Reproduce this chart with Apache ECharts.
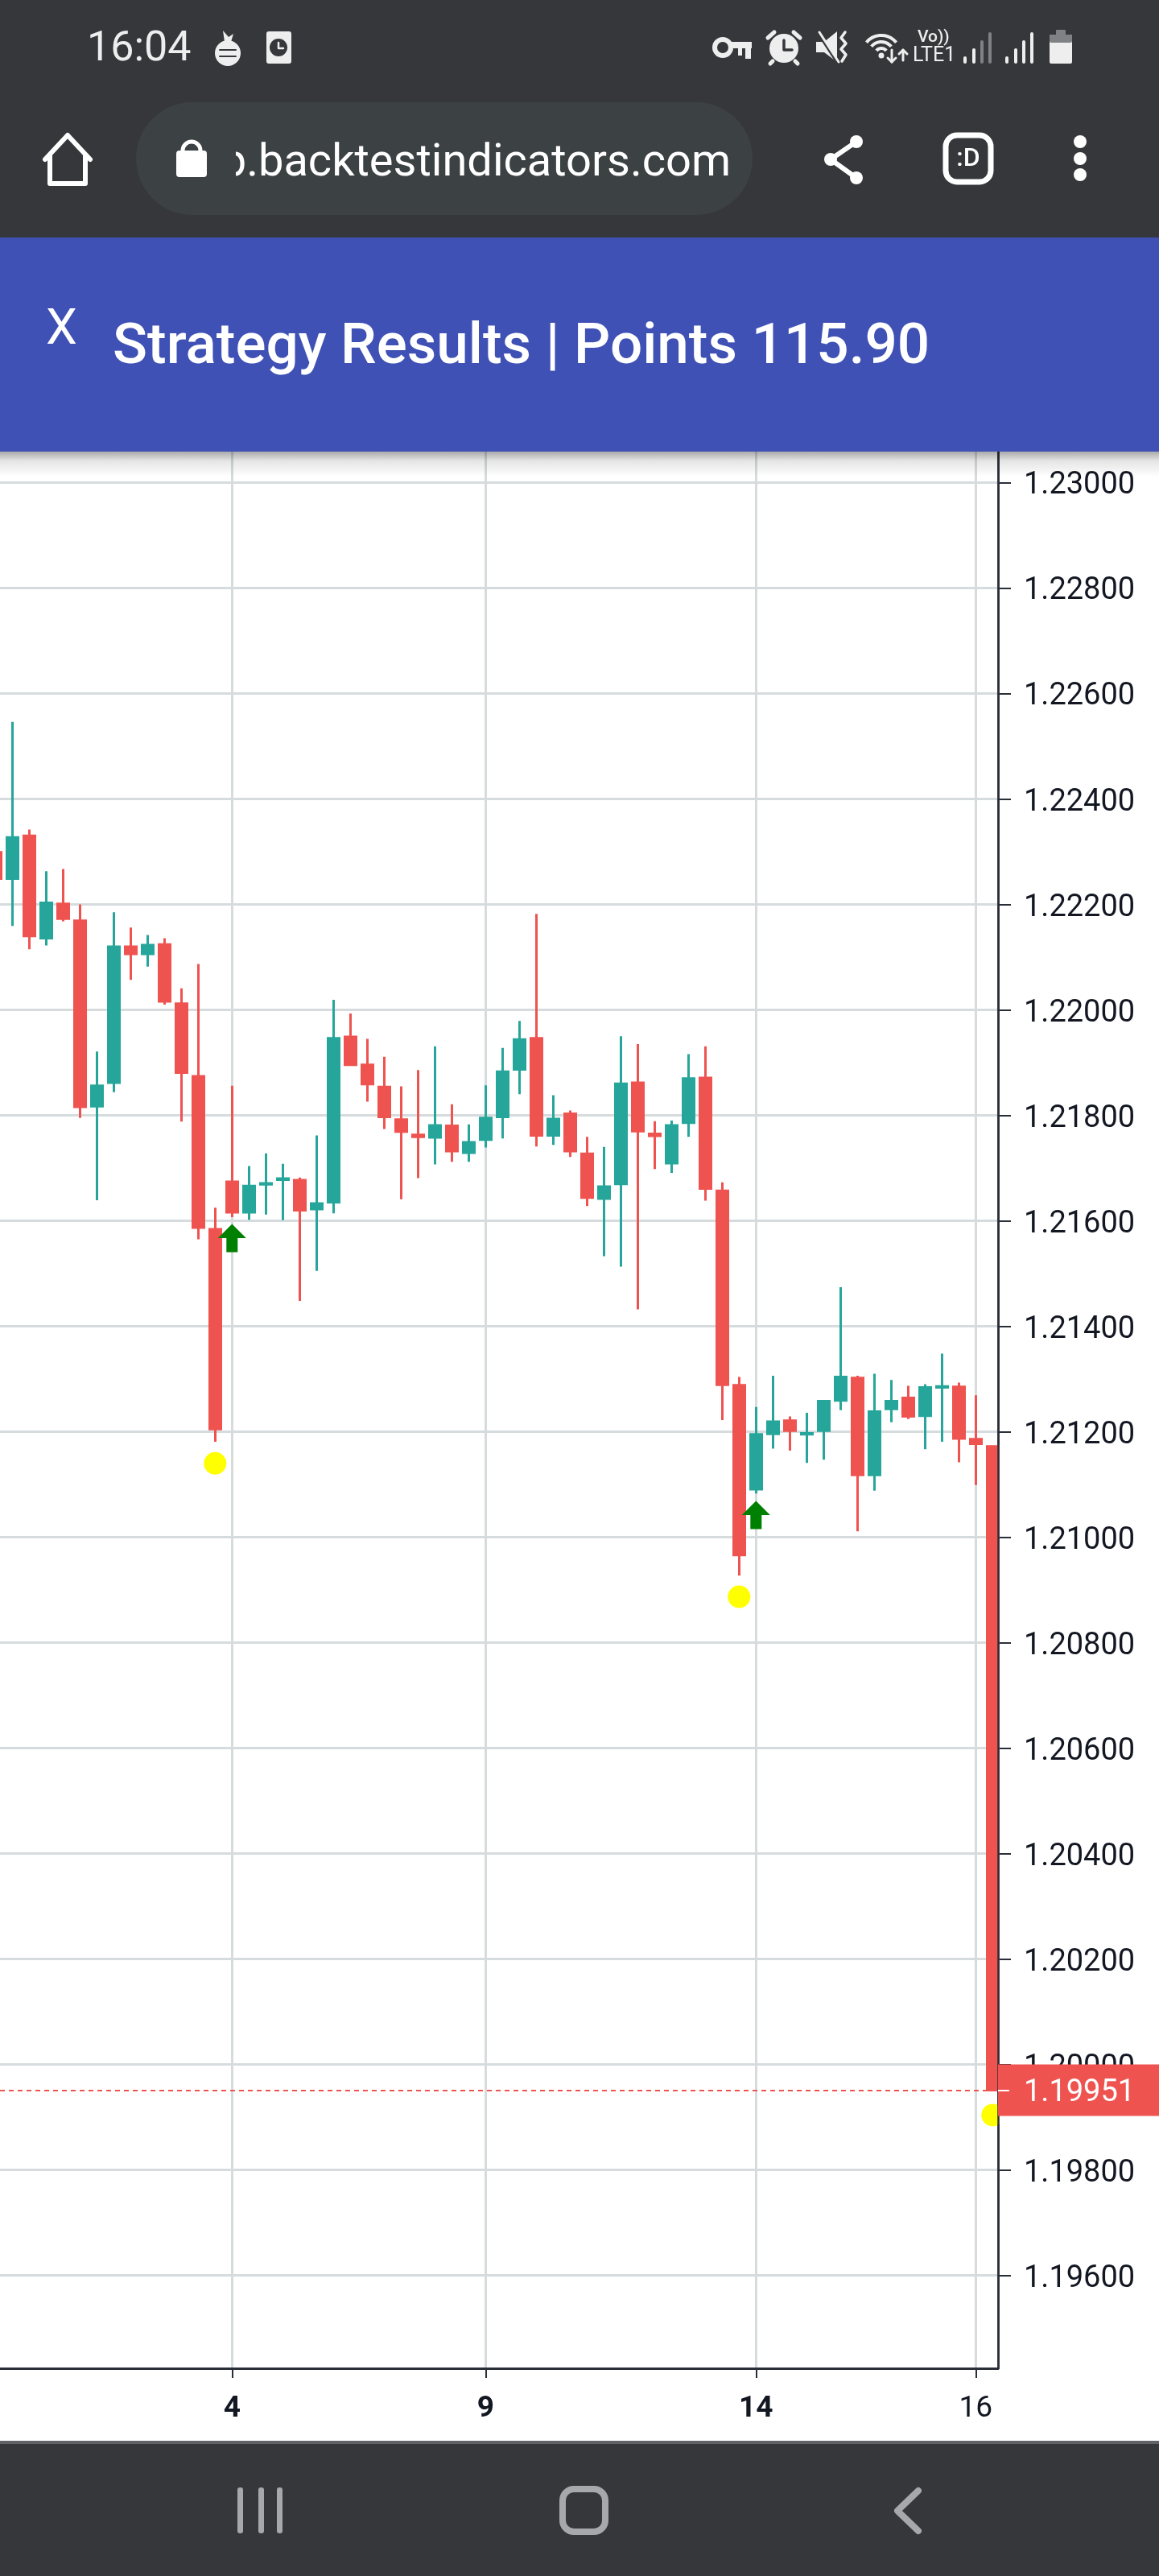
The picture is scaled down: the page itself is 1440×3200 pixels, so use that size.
<!DOCTYPE html>
<html><head><meta charset="utf-8"><title>Strategy Results</title>
<style>html,body{margin:0;padding:0;background:#fff}#c{width:1440px;height:3200px}</style>
<script src="https://cdn.jsdelivr.net/npm/echarts@6/dist/echarts.min.js"></script>
</head><body><div id="c"></div>
<script>
const opens  = [1.22299,1.22249,1.22330,1.22136,1.22201,1.22169,1.21817,1.21862,1.22120,1.22106,1.22124,1.22012,1.21874,1.21584,1.21674,1.21616,1.21669,1.21678,1.21677,1.21622,1.21635,1.21949,1.21896,1.21854,1.21792,1.21763,1.21758,1.21780,1.21729,1.21754,1.21797,1.21887,1.21946,1.21762,1.21803,1.21727,1.21642,1.21670,1.21862,1.21765,1.21709,1.21786,1.21871,1.21657,1.21288,1.21091,1.21196,1.21221,1.21195,1.21202,1.21259,1.21302,1.21118,1.21243,1.21264,1.21230,1.21284,1.21285,1.21186,1.21172];
const closes = [1.22249,1.22327,1.22140,1.22203,1.22173,1.21816,1.21856,1.22120,1.22106,1.22123,1.22016,1.21881,1.21587,1.21205,1.21616,1.21666,1.21671,1.21680,1.21620,1.21633,1.21946,1.21896,1.21859,1.21797,1.21769,1.21759,1.21781,1.21732,1.21749,1.21795,1.21883,1.21944,1.21762,1.21793,1.21732,1.21644,1.21665,1.21860,1.21770,1.21761,1.21781,1.21870,1.21661,1.21289,1.20966,1.21195,1.21219,1.21202,1.21197,1.21258,1.21304,1.21118,1.21238,1.21258,1.21229,1.21284,1.21286,1.21187,1.21177,1.19951];
const lows   = [1.22240,1.22159,1.22115,1.22122,1.22168,1.21795,1.21639,1.21844,1.22057,1.22082,1.22010,1.21788,1.21565,1.21181,1.21607,1.21602,1.21612,1.21601,1.21448,1.21505,1.21614,1.21894,1.21826,1.21774,1.21641,1.21681,1.21707,1.21712,1.21712,1.21739,1.21756,1.21840,1.21741,1.21744,1.21721,1.21628,1.21533,1.21513,1.21432,1.21698,1.21691,1.21759,1.21638,1.21222,1.20927,1.21083,1.21168,1.21164,1.21141,1.21147,1.21241,1.21011,1.21088,1.21218,1.21224,1.21167,1.21181,1.21142,1.21099,1.19951];
const highs  = [1.22305,1.22546,1.22342,1.22263,1.22267,1.22200,1.21921,1.22185,1.22156,1.22142,1.22136,1.22041,1.22087,1.21625,1.21856,1.21704,1.21728,1.21708,1.21682,1.21762,1.22019,1.21993,1.21945,1.21911,1.21855,1.21886,1.21931,1.21821,1.21783,1.21857,1.21928,1.21979,1.22182,1.21838,1.21809,1.21759,1.21740,1.21950,1.21935,1.21789,1.21790,1.21916,1.21931,1.21673,1.21304,1.21247,1.21306,1.21229,1.21236,1.21258,1.21474,1.21306,1.21310,1.21298,1.21287,1.21290,1.21348,1.21293,1.21269,1.21172];
const xTickIndex = [14,29,45,58];
const xTickLabels = ['4','9','14','16'];
const yTicks = [1.196,1.198,1.200,1.202,1.204,1.206,1.208,1.210,1.212,1.214,1.216,1.218,1.220,1.222,1.224,1.226,1.228,1.230];
const lastPrice = 1.19951;
const dotIndex = [13,44,59];
const dotValues = [1.21140,1.20887,1.19904];
const arrowIndex = [14,45];
const arrowValues = [1.21567,1.21042];

const UP='#26a69a', DOWN='#ef5350', INK='#131722', LINE='#2a2e39', GRID='#d6dcde';
const DARK='#36373b', BLUE='#3f51b5', ICON='#eeeeef', NAV='#a7a8ab';
const Z=100;
const rect=(x,y,w,h,fill,r)=>({type:'rect',z:Z,silent:true,shape:{x,y,width:w,height:h,r:r||0},style:{fill}});
const txt=(x,y,text,size,fill,weight,align)=>({type:'text',z:Z,silent:true,style:{x,y,text,fill,font:(weight||400)+' '+size+'px Roboto',textAlign:align||'left',textVerticalAlign:'middle'}});
const line=(pts,stroke,w)=>({type:'polyline',z:Z,silent:true,shape:{points:pts},style:{stroke,lineWidth:w,fill:null,lineCap:'round',lineJoin:'round'}});
const poly=(pts,fill)=>({type:'polygon',z:Z,silent:true,shape:{points:pts},style:{fill}});
const circ=(cx,cy,r,fill,stroke,w)=>({type:'circle',z:Z,silent:true,shape:{cx,cy,r},style:{fill:fill||'transparent',stroke:stroke||null,lineWidth:w||0}});
const arc=(cx,cy,r,a0,a1,stroke,w)=>({type:'arc',z:Z,silent:true,shape:{cx,cy,r,startAngle:a0,endAngle:a1,clockwise:true},style:{stroke,lineWidth:w,fill:null}});

const chrome=[
 // keeps the last signal dot from showing past the price axis
 {type:'rect',z:4,silent:true,shape:{x:1242,y:2627,width:8,height:20},style:{fill:'#ffffff'}},
 {type:'rect',z:Z,silent:true,shape:{x:0,y:560,width:1440,height:32},style:{fill:{type:'linear',x:0,y:0,x2:0,y2:1,colorStops:[{offset:0,color:'rgba(0,0,0,0.35)'},{offset:0.4,color:'rgba(0,0,0,0.1)'},{offset:1,color:'rgba(0,0,0,0)'}]}}},
 rect(0,0,1440,295,DARK),
 rect(0,295,1440,266,BLUE),
 // status bar, left
 txt(108,62,'16:04',52,ICON),
 circ(283,66,16,ICON), poly([[279,52],[277,38],[284,46],[290,42],[287,52]],ICON),
 line([[273,62],[293,62]],DARK,2), line([[273,70],[293,70]],DARK,2),
 rect(331,39,31,40,ICON,3), circ(346,59,11,DARK), line([[346,53],[346,60],[352,60]],ICON,2.5),
 // status bar, right
 circ(898,59,10,null,ICON,6), rect(908,52,26,8,ICON), rect(917,60,5,9,ICON), rect(926,60,7,13,ICON),
 circ(974,60,18,ICON), line([[974,50],[974,62],[984,62]],DARK,3.5),
 line([[954,47],[962,40]],ICON,5), line([[994,47],[986,40]],ICON,5), line([[960,76],[957,79]],ICON,5), line([[988,76],[991,79]],ICON,5),
 poly([[1014,52],[1024,52],[1040,39],[1040,77],[1024,65],[1014,65]],ICON), line([[1016,40],[1040,77]],DARK,4), line([[1018,40],[1042,77]],ICON,3),
 line([[1050,40],[1045,47],[1051,54],[1045,61],[1051,68],[1046,76]],ICON,3.5),
 arc(1095,68,24,-2.45,-0.69,ICON,4), arc(1095,68,16,-2.45,-0.69,ICON,4), arc(1095,68,8,-2.45,-0.69,ICON,4), circ(1095,69,3.5,ICON),
 line([[1108,62],[1108,77]],ICON,3), line([[1103,72],[1108,77],[1113,72]],ICON,3),
 line([[1122,62],[1122,75]],ICON,3), line([[1117,67],[1122,62],[1127,67]],ICON,3),
 txt(1140,47,'Vo))',21,ICON,500), txt(1134,70,'LTE1',25,ICON,400),
 rect(1197,70,4,9,ICON,2), rect(1208,60,4,19,ICON,2), rect(1218,50,4,29,'#808184',2), rect(1228,40,4,39,'#808184',2),
 rect(1249,70,4,9,ICON,2), rect(1260,60,4,19,ICON,2), rect(1270,50,4,29,ICON,2), rect(1280,40,4,39,ICON,2),
 rect(1304,43,28,36,ICON,2), rect(1304,43,28,10,'#808184',2), rect(1312,37,12,7,'#808184',1),
 // address bar
 line([[56,198],[84,168],[112,198]],'#ffffff',6), line([[62,194],[62,228],[106,228],[106,194]],'#ffffff',6),
 rect(169,127,766,140,'#3c4144',70),
 txt(908,204,'p.backtestindicators.com',56,'#ffffff',400,'right'),
 rect(255,140,38,115,'#3c4144'),
 rect(219,187,38,33,'#ffffff',4), arc(238,187,11,Math.PI,2*Math.PI,'#ffffff',5),
 circ(1064,176,8,'#fff'), circ(1032,198,8,'#fff'), circ(1064,221,8,'#fff'), line([[1064,176],[1032,198],[1064,221]],'#fff',6),
 {type:'rect',z:Z,silent:true,shape:{x:1175,y:168,width:56,height:58,r:14},style:{fill:'transparent',stroke:'#fff',lineWidth:7}},
 txt(1203,198,':D',32,'#fff',500,'center'),
 circ(1342,176,8,'#fff'), circ(1342,197,8,'#fff'), circ(1342,217,8,'#fff'),
 // app bar
 txt(57,411,'X',62,'#ffffff',400),
 txt(140,433,'Strategy Results | Points 115.90',71,'#ffffff',500),
 // navigation bar
 rect(0,3032,1440,4,'#5f6368'),
 rect(0,3036,1440,164,DARK),
 rect(295,3090,7,57,NAV,3), rect(321,3090,7,57,NAV,3), rect(344,3090,7,57,NAV,3),
 {type:'rect',z:Z,silent:true,shape:{x:699,y:3092,width:53,height:53,r:14},style:{fill:'transparent',stroke:NAV,lineWidth:8}},
 line([[1141,3094],[1115,3119],[1141,3144]],NAV,8)
];

const candleData=opens.map((o,i)=>[i,o,closes[i],lows[i],highs[i]]);
const fmtY=v=>Number(v).toFixed(5);
const labelOf=v=>xTickLabels[xTickIndex.indexOf(Math.round(v))]||'';
const Y_MIN=1.194237, Y_MAX=1.230603;

const chart=echarts.init(document.getElementById('c'),null,{renderer:'canvas',width:1440,height:3200});
chart.setOption({
 animation:false,
 backgroundColor:'#ffffff',
 grid:{left:0,right:200,top:560,bottom:258,containLabel:false,outerBoundsMode:'none'},
 xAxis:{type:'value',min:0.2714,max:59.319,position:'bottom',
  axisLine:{onZero:false,lineStyle:{color:LINE,width:3}},
  axisTick:{customValues:xTickIndex,length:12,lineStyle:{color:LINE,width:2}},
  axisLabel:{customValues:xTickIndex,margin:32,fontFamily:'Roboto',fontSize:37,color:INK,
    formatter:v=>{const s=labelOf(v);return s==='16'?'{n|'+s+'}':'{b|'+s+'}';},
    rich:{b:{fontFamily:'Roboto',fontSize:37,fontWeight:700,color:INK},n:{fontFamily:'Roboto',fontSize:37,fontWeight:400,color:INK}}},
  splitLine:{show:true,customValues:xTickIndex,lineStyle:{color:GRID,width:3}}},
 yAxis:[
  {type:'value',position:'right',min:Y_MIN,max:Y_MAX,scale:true,
   axisLine:{show:true,onZero:false,lineStyle:{color:LINE,width:2.5}},
   axisTick:{show:true,customValues:yTicks,length:16,lineStyle:{color:LINE,width:2}},
   axisLabel:{customValues:yTicks,margin:32,fontFamily:'Roboto',fontSize:38,color:INK,formatter:fmtY,verticalAlign:'top',lineHeight:9},
   splitLine:{show:true,customValues:yTicks,lineStyle:{color:GRID,width:3}}},
  {type:'value',position:'right',min:Y_MIN,max:Y_MAX,scale:true,z:6,
   axisLine:{show:true,onZero:false,lineStyle:{color:LINE,width:2.5}},
   axisTick:{show:false},
   axisLabel:{customValues:[lastPrice],margin:0,fontFamily:'Roboto',fontSize:38,color:DOWN,formatter:()=>' ',
     backgroundColor:DOWN,padding:[13,191,13,0]},
   splitLine:{show:false}},
  {type:'value',position:'right',min:Y_MIN,max:Y_MAX,scale:true,z:7,
   axisLine:{show:false},
   axisTick:{show:true,customValues:[lastPrice],length:14,lineStyle:{color:'#ffffff',width:2}},
   axisLabel:{customValues:[lastPrice],margin:32,fontFamily:'Roboto',fontSize:38,color:'#ffffff',formatter:fmtY,verticalAlign:'top',lineHeight:7},
   splitLine:{show:false}}
 ],
 series:[
  {type:'candlestick',name:'Price',barWidth:14,clip:true,data:candleData,
   itemStyle:{color:UP,color0:DOWN,borderColor:UP,borderColor0:DOWN,borderWidth:3},
   markLine:{silent:true,symbol:'none',precision:5,label:{show:false},animation:false,
     lineStyle:{color:DOWN,type:[6,5],width:2},data:[{yAxis:lastPrice}]}},
  {type:'scatter',name:'Signal',symbol:'circle',symbolSize:28,clip:true,z:3,itemStyle:{color:'#ffff00',opacity:1},
   data:dotIndex.map((x,i)=>[x,dotValues[i]])},
  {type:'scatter',name:'Entry',symbol:'path://M50,0 L100,50 L70,50 L70,100 L30,100 L30,50 L0,50 Z',symbolSize:[35,35],clip:true,z:3,itemStyle:{color:'#008000',opacity:1},
   data:arrowIndex.map((x,i)=>[x,arrowValues[i]])}
 ],
 graphic:chrome
});
</script></body></html>
